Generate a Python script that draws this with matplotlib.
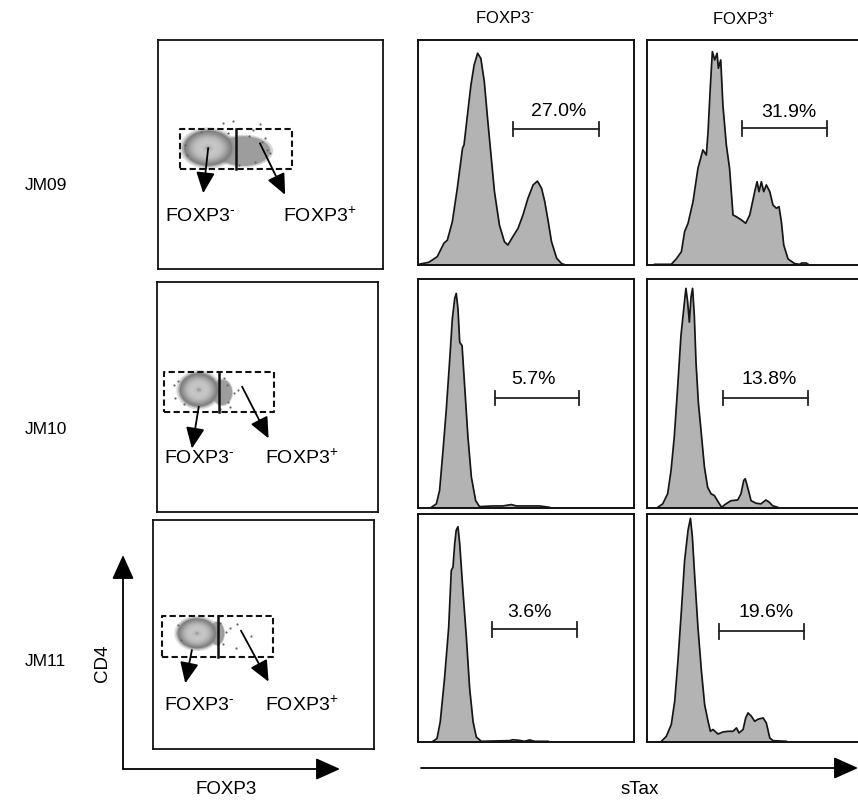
import matplotlib
matplotlib.use("Agg")
import matplotlib.pyplot as plt
from matplotlib.patches import Ellipse, FancyArrowPatch

plt.rcParams['font.family'] = ['Liberation Sans', 'DejaVu Sans']
plt.rcParams['mathtext.fontset'] = 'custom'
plt.rcParams['mathtext.rm'] = 'Liberation Sans'
plt.rcParams['mathtext.it'] = 'Liberation Sans:italic'
plt.rcParams['mathtext.bf'] = 'Liberation Sans:bold'
plt.rcParams['mathtext.default'] = 'regular'

# ---------------- data ----------------
samples = ["JM09", "JM10", "JM11"]
col_labels = [r"FOXP3$^{\text{-}}$", r"FOXP3$^{\text{+}}$"]
neg_label = r"FOXP3$^{\text{-}}$"
pos_label = r"FOXP3$^{\text{+}}$"
x_axis_label = "FOXP3"
y_axis_label = "CD4"
hist_axis_label = "sTax"

# histograms: x = % of panel width, y = % of panel height
h_jm09_neg_x = [0.3, 5.0, 8.9, 12.0, 13.6, 15.9, 18.2, 20.6, 21.3, 22.9, 24.5, 26.0, 27.6, 29.1, 30.7,
                32.2, 33.8, 35.4, 37.7, 40.0, 41.6, 43.9, 46.3, 48.6, 50.9, 53.3, 55.3, 57.2, 58.7,
                60.3, 61.8, 64.2, 66.5, 67.5]
h_jm09_neg_y = [0.0, 0.9, 3.4, 9.4, 10.8, 19.0, 33.9, 51.7, 53.2, 66.6, 79.9, 88.9, 94.1, 91.8, 81.4,
                65.1, 48.7, 32.4, 17.5, 10.1, 8.6, 12.3, 16.0, 22.0, 29.4, 35.4, 37.1, 33.9, 27.9,
                19.0, 10.1, 2.7, 0.3, 0.0]
h_jm09_pos_x = [3.6, 11.3, 13.6, 16.0, 17.5, 19.1, 21.4, 23.7, 26.0, 27.6, 28.4, 29.5, 30.4, 31.5,
                32.6, 33.2, 34.3, 35.3, 36.9, 38.4, 40.0, 41.6, 43.9, 45.9, 47.8, 50.1, 51.2, 52.1,
                53.2, 54.3, 55.5, 57.1, 58.6, 60.2, 61.4, 62.5, 63.6, 65.6, 68.7, 71.0, 72.0, 74.0, 75.0]
h_jm09_pos_y = [0.0, 0.0, 2.4, 5.6, 14.6, 18.3, 27.9, 42.8, 51.0, 48.7, 59.1, 79.9, 94.8, 91.1,
                94.1, 87.4, 91.1, 71.0, 53.2, 42.8, 22.0, 21.2, 19.8, 18.3, 22.0, 32.4, 36.8, 32.4,
                36.8, 32.4, 35.4, 32.4, 26.4, 25.0, 25.7, 19.0, 8.6, 2.4, 0.3, 0.0, 0.6, 0.6, 0.0]
h_jm10_neg_x = [6.2, 8.5, 10.0, 11.6, 13.1, 14.7, 15.9, 17.0, 17.7, 18.5, 19.3, 20.4, 21.6, 23.1,
                24.7, 26.7, 28.5, 34.7, 39.3, 43.2, 45.5, 56.2, 60.8]
h_jm10_neg_y = [0.0, 1.5, 7.4, 25.1, 42.8, 64.9, 82.6, 91.4, 93.7, 87.0, 72.3, 70.8, 53.1, 31.0,
                13.3, 2.9, 0.3, 0.6, 0.6, 1.2, 0.6, 0.6, 0.0]
h_jm10_pos_x = [5.0, 7.3, 9.6, 11.2, 12.7, 14.3, 15.8, 17.1, 18.1, 18.9, 19.7, 20.5, 21.2, 22.0,
                22.8, 23.9, 25.1, 26.7, 28.2, 29.8, 31.3, 32.9, 34.7, 36.7, 39.1, 42.2, 43.7, 45.0,
                45.7, 46.8, 48.4, 50.7, 53.0, 55.3, 56.9, 58.4, 60.8]
h_jm10_pos_y = [0.0, 1.5, 5.9, 16.2, 31.0, 53.1, 75.2, 87.0, 95.9, 90.0, 81.1, 92.2, 95.9, 84.1,
                63.4, 45.7, 33.9, 17.7, 8.8, 5.9, 5.2, 2.7, 0.0, 1.5, 2.9, 3.2, 5.9, 11.8,
                12.5, 8.8, 2.9, 1.8, 1.5, 3.2, 2.2, 0.7, 0.0]
h_jm11_neg_x = [6.9, 8.8, 10.3, 12.3, 14.2, 15.4, 16.2, 17.0, 17.7, 18.5, 19.3, 20.8, 22.4, 23.9,
                25.5, 27.0, 29.3, 42.4, 44.0, 47.0, 49.3, 51.7, 54.0, 60.2]
h_jm11_neg_y = [0.0, 1.2, 8.6, 27.8, 50.0, 75.1, 76.6, 87.0, 92.9, 94.4, 87.0, 66.3, 45.6, 23.4,
                8.6, 1.9, 0.0, 0.3, 0.7, 0.4, 0.0, 0.6, 0.0, 0.0]
h_jm11_pos_x = [6.7, 9.0, 11.3, 12.9, 14.4, 16.0, 17.5, 19.1, 20.2, 21.1, 22.2, 23.7, 25.3, 26.8,
                28.4, 29.5, 30.7, 33.0, 35.3, 37.7, 40.0, 41.6, 42.8, 44.7, 45.9, 47.0, 48.5, 50.1,
                51.6, 54.0, 55.5, 57.1, 58.6, 64.8]
h_jm11_pos_y = [0.0, 2.2, 7.4, 17.7, 35.4, 57.5, 79.6, 92.9, 98.1, 90.0, 72.3, 50.1, 31.0, 16.2,
                8.8, 4.4, 5.2, 3.2, 4.1, 4.4, 4.4, 5.9, 3.7, 5.2, 10.3, 12.5, 11.1, 8.8,
                9.7, 10.3, 8.1, 1.5, 0.3, 0.0]

hist_x = [[h_jm09_neg_x, h_jm09_pos_x], [h_jm10_neg_x, h_jm10_pos_x], [h_jm11_neg_x, h_jm11_pos_x]]
hist_y = [[h_jm09_neg_y, h_jm09_pos_y], [h_jm10_neg_y, h_jm10_pos_y], [h_jm11_neg_y, h_jm11_pos_y]]

# sTax+ gate percentages and gate positions (% of panel)
pct_values = [["27.0%", "31.9%"], ["5.7%", "13.8%"], ["3.6%", "19.6%"]]
gate_x0 = [[44.2, 44.3], [35.5, 35.2], [34.3, 33.5]]
gate_x1 = [[83.6, 83.7], [74.5, 74.7], [73.5, 72.9]]
gate_y = [[60.2, 60.6], [47.9, 47.9], [49.3, 48.4]]
label_x = [[65.0, 65.9], [53.3, 56.9], [51.7, 55.5]]
label_y = [[68.0, 67.8], [56.0, 56.0], [56.7, 56.5]]

# dot plots (CD4 vs FOXP3), % of panel
cloud_cx = [22.3, 18.9, 19.9]
cloud_cy = [52.8, 53.1, 50.5]
cloud_w = [21.5, 17.3, 17.4]
cloud_h = [15.3, 14.5, 13.1]
tail_cx = [38.0, 29.5, 29.0]
tail_cy = [51.5, 52.0, 50.5]
tail_w = [24.0, 9.0, 6.5]
tail_h = [13.0, 11.0, 10.0]
events_x = [[29.0, 33.4, 45.3, 48.3, 49.8, 43.1, 11.9, 19.3, 40.5, 46.0, 13.0, 31.0, 36.0, 42.0, 47.5],
            [7.5, 8.3, 31.7, 34.7, 33.2, 36.5, 30.2, 9.5, 12.0, 28.5, 32.0],
            [38.0, 34.7, 44.5, 37.4, 33.2, 11.3, 12.5, 30.5, 31.5]]
events_y = [[63.7, 64.7, 63.2, 52.0, 50.6, 46.9, 54.2, 60.0, 58.0, 55.5, 50.0, 59.5, 45.5, 60.5, 57.0],
            [55.2, 49.4, 55.2, 51.6, 45.8, 53.1, 58.1, 57.0, 47.0, 45.0, 48.0],
            [54.4, 52.7, 49.5, 44.0, 50.9, 54.1, 47.5, 55.0, 46.0]]
gate_left = [9.7, 3.0, 4.1]
gate_mid = [34.6, 27.9, 29.2]
gate_right = [59.4, 53.1, 54.3]
gate_bottom = [43.6, 43.3, 40.3]
gate_top = [61.2, 60.8, 58.1]
arrow_neg = [[22.3, 52.8, 20.1, 33.1], [18.9, 45.8, 15.8, 27.6], [17.6, 43.2, 14.6, 28.7]]
arrow_pos = [[45.3, 54.9, 56.5, 32.4], [38.5, 54.5, 50.5, 32.0], [39.8, 51.7, 52.3, 29.4]]
neg_text_pos = [[3.0, 23.0], [3.0, 23.3], [4.8, 19.2]]
pos_text_pos = [[55.7, 23.0], [49.0, 23.3], [50.8, 19.2]]

# density shading levels of the dot cloud: (relative size, grey, alpha)
cloud_levels = [(1.18, '#9a9a9a', 0.35), (1.08, '#8a8a8a', 0.6), (1.0, '#7f7f7f', 1.0),
                (0.93, '#888888', 1.0), (0.86, '#939393', 1.0), (0.79, '#a0a0a0', 1.0),
                (0.72, '#adadad', 1.0), (0.64, '#b8b8b8', 1.0), (0.55, '#c1c1c1', 1.0),
                (0.42, '#c6c6c6', 1.0), (0.25, '#c0c0c0', 1.0), (0.12, '#a5a5a5', 1.0)]

# ---------------- layout (pixels) ----------------
W, H = 858, 800
fig = plt.figure(figsize=(W / 100, H / 100), dpi=100)


def px_axes(x0, y0, x1, y1):
    return fig.add_axes([x0 / W, 1 - y1 / H, (x1 - x0) / W, (y1 - y0) / H])


def fpt(x, y):
    return (x / W, 1 - y / H)


dot_boxes = [(158, 40, 383, 269), (157, 282, 378, 512), (153, 520, 374, 749)]
hist_rows = [(40, 265), (279, 508), (514, 742)]
hist_cols = [(418, 634), (647, 862)]
row_label_y = [186, 429, 661]

for r in range(3):
    # ---- dot plot ----
    ax = px_axes(*dot_boxes[r])
    ax.set_xlim(0, 100)
    ax.set_ylim(0, 100)
    ax.set_xticks([])
    ax.set_yticks([])
    for s in ax.spines.values():
        s.set_linewidth(1.3)
        s.set_color('#111111')
    ax.add_patch(Ellipse((tail_cx[r], tail_cy[r]), tail_w[r] * 1.1, tail_h[r] * 1.1,
                         facecolor='#9a9a9a', edgecolor='none', alpha=0.4, zorder=1))
    ax.add_patch(Ellipse((tail_cx[r], tail_cy[r]), tail_w[r], tail_h[r],
                         facecolor='#8a8a8a', edgecolor='none', alpha=0.75, zorder=1))
    for frac, col, al in cloud_levels:
        ax.add_patch(Ellipse((cloud_cx[r], cloud_cy[r]), cloud_w[r] * frac, cloud_h[r] * frac,
                             facecolor=col, edgecolor='none', alpha=al, zorder=2))
    ax.scatter(events_x[r], events_y[r], s=2.5, color='#666666', zorder=3, linewidths=0)
    gate_kw = dict(color='#111111', lw=1.5, ls=(0, (3, 1.6)), zorder=4)
    ax.plot([gate_left[r], gate_right[r], gate_right[r], gate_left[r], gate_left[r]],
            [gate_bottom[r], gate_bottom[r], gate_top[r], gate_top[r], gate_bottom[r]], **gate_kw)
    ax.plot([gate_mid[r], gate_mid[r]], [gate_bottom[r], gate_top[r]],
            color='#111111', lw=1.8, zorder=4)
    for a in (arrow_neg[r], arrow_pos[r]):
        ax.annotate('', xy=(a[2], a[3]), xytext=(a[0], a[1]),
                    arrowprops=dict(arrowstyle='-|>,head_length=0.85,head_width=0.38',
                                    mutation_scale=15, color='black', lw=1.3,
                                    shrinkA=0, shrinkB=0), zorder=5)
    ax.text(neg_text_pos[r][0], neg_text_pos[r][1], neg_label, fontsize=14,
            ha='left', va='center')
    ax.text(pos_text_pos[r][0], pos_text_pos[r][1], pos_label, fontsize=14,
            ha='left', va='center')

    # ---- row label ----
    fig.text(*fpt(25, row_label_y[r]), samples[r], fontsize=12.5, ha='left', va='center')

    # ---- histograms ----
    for c in range(2):
        x0, x1 = hist_cols[c]
        y0, y1 = hist_rows[r]
        hx = px_axes(x0, y0, x1, y1)
        hx.set_xlim(0, 100)
        hx.set_ylim(-0.3, 100)
        hx.set_xticks([])
        hx.set_yticks([])
        for s in hx.spines.values():
            s.set_linewidth(1.4)
            s.set_color('#111111')
        hx.fill_between(hist_x[r][c], hist_y[r][c], -0.3, color='#b3b3b3', lw=0)
        hx.plot(hist_x[r][c], hist_y[r][c], color='#151515', lw=1.25)
        gy = gate_y[r][c]
        hx.plot([gate_x0[r][c], gate_x1[r][c]], [gy, gy], color='#222222', lw=1.3)
        for gx in (gate_x0[r][c], gate_x1[r][c]):
            hx.plot([gx, gx], [gy - 3.2, gy + 3.2], color='#222222', lw=1.3)
        hx.text(label_x[r][c], label_y[r][c], pct_values[r][c], fontsize=14,
                ha='center', va='center')

# column headers
fig.text(*fpt(505, 18), col_labels[0], fontsize=12, ha='center', va='center')
fig.text(*fpt(743, 18), col_labels[1], fontsize=12, ha='center', va='center')

# axis arrows
akw = dict(arrowstyle='-|>,head_length=1.0,head_width=0.45', mutation_scale=15,
           color='black', lw=1.3, shrinkA=0, shrinkB=0, transform=fig.transFigure)
fig.add_artist(FancyArrowPatch(fpt(123, 769), fpt(123, 555), **akw))
fig.add_artist(FancyArrowPatch(fpt(123, 769), fpt(340, 769), **akw))
fig.add_artist(FancyArrowPatch(fpt(421, 768), fpt(858, 768), **akw))

fig.text(*fpt(226, 789), x_axis_label, fontsize=13.5, ha='center', va='center')
fig.text(*fpt(103, 663), y_axis_label, fontsize=13.5, ha='center', va='center', rotation=90)
fig.text(*fpt(640, 789), hist_axis_label, fontsize=13.5, ha='center', va='center')

fig.savefig('out.png', dpi=100)
